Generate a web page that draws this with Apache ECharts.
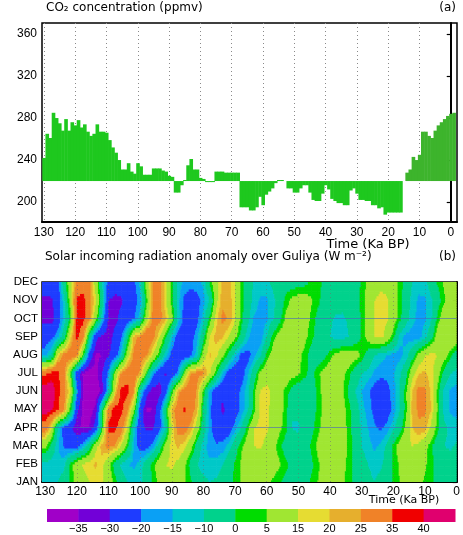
<!DOCTYPE html>
<html>
<head>
<meta charset="utf-8">
<script src="https://cdn.jsdelivr.net/npm/echarts@6.0.0/dist/echarts.min.js"></script>
<style>
html, body { margin: 0; padding: 0; background: #fff; }
#chart { width: 463px; height: 535px; }
</style>
</head>
<body>
<div id="chart"></div>
<script>
// panel (a): CO2, 1 ka steps
var co2Time = [130,129,128,127,126,125,124,123,122,121,120,119,118,117,116,115,114,113,112,111,
    110,109,108,107,106,105,104,103,102,101,100,99,98,97,96,95,94,93,92,91,
    90,89,88,87,86,85,84,83,82,81,80,79,78,77,76,75,74,73,72,71,
    70,69,68,67,66,65,64,63,62,61,60,59,58,57,56,55,54,53,52,51,
    50,49,48,47,46,45,44,43,42,41,40,39,38,37,36,35,34,33,32,31,
    30,29,28,27,26,25,24,23,22,21,20,19,18,17,16,15,14,13,12,11,
    10,9,8,7,6,5,4,3,2,1,0,-1];
var co2Ppmv = [242,265,261,285,280,275,268,279,268,276,273,278,271,274,267,263,265,274,267,267,
    266,259,252,247,240,231,231,237,229,227,237,234,226,226,226,232,232,232,230,229,
    225,224,209,209,216,221,235,241,231,231,223,222,219,219,219,229,229,229,228,228,
    228,228,228,195,195,195,192,192,195,205,197,207,210,213,218,221,221,220,213,213,
    209,209,213,216,216,209,202,201,201,208,216,212,203,201,199,199,197,197,211,213,
    208,202,202,201,201,197,197,194,195,188,190,190,190,190,190,220,228,231,243,240,
    245,267,267,263,261,268,273,276,279,282,284,285];
var co2Base = 220;
var co2Ticks = [200, 240, 280, 320, 360];
var timeTicks = [130, 120, 110, 100, 90, 80, 70, 60, 50, 40, 30, 20, 10, 0];

// panel (b): insolation anomaly (W m-2), one row per month, t = 130 ... 0 ka step 2
var months = ['JAN','FEB','MAR','APR','MAY','JUN','JUL','AUG','SEP','OCT','NOV','DEC'];
var monthIndex = [1,2,3,4,5,6,7,8,9,10,11,12];
var radTime = [130,128,126,124,122,120,118,116,114,112,110,108,106,104,102,100,98,96,94,92,
    90,88,86,84,82,80,78,76,74,72,70,68,66,64,62,60,58,56,54,52,
    50,48,46,44,42,40,38,36,34,32,30,28,26,24,22,20,18,16,14,12,10,8,6,4,2,0];
var radJan = [-11,-11,-10,-6,2,8,12,15,17,16, 11,3,-5,-10,-12,-11,-7,1,7,11,
    12,10,6,1,-5,-8,-10,-9,-7,-3, 2,6,8,9,9,7,4,1,-3,-4,
    -5,-4,1,5,7,8,8,6,2,-2, -5,-8,-10,-8,-5,1,5,8,8,7, 4,1,-2,-4,-5,-4];
var radFeb = [-12,-13,-14,-12,2,10,16,18,21,17, 8,-4,-11,-15,-16,-13,-6,3,10,15,
    16,13,7,-3,-10,-13,-14,-13,-10,-5, 1,6,9,11,11,10,8,6,2,-3,
    -6,-5,-2,4,7,9,9,7,3,-3, -7,-10,-12,-11,-7,1,6,9,10,9, 6,2,-3,-6,-7,-6];
var radMar = [8,-4,-14,-21,-25,-23,-16,-5,12,23, 27,24,15,2,-16,-23,-23,-18,-6,8,
    18,21,17,8,-4,-13,-17,-19,-18,-13, -4,4,11,15,16,13,8,2,-4,-7,
    -7,-5,1,6,9,10,10,8,4,-4, -10,-13,-16,-14,-8,2,9,13,15,13, 8,1,-6,-10,-11,-9];
var radApr = [30,16,-11,-24,-29,-34,-36,-35,-26,2, 37,38,29,15,-12,-28,-31,-31,-24,-10,
    16,28,29,23,10,-5,-18,-25,-27,-25, -17,-10,3,15,17,16,12,7,2,-10,
    -11,-6,-3,3,8,10,10,8,3,-5, -11,-15,-19,-21,-18,-12,-4,8,20,24, 23,13,2,-8,-12,-13];
var radMay = [44,41,36,26,2,-28,-37,-38,-33,-3, 30,39,38,27,8,-24,-36,-35,-25,-3,
    22,30,36,30,22,-4,-18,-27,-31,-28, -25,-18,-11,3,17,17,12,8,3,-10,
    -8,-6,-4,1,7,10,10,8,2,-6, -13,-17,-22,-27,-24,-18,-10,3,22,26, 26,20,4,-12,-16,-17];
var radJun = [44,43,38,28,16,-17,-35,-39,-39,-33, -12,17,38,38,26,-11,-27,-34,-33,-26,
    2,23,30,31,24,3,-17,-26,-29,-28, -25,-18,-12,2,16,17,13,9,3,-3,
    -6,-7,-5,1,8,10,9,6,-2,-10, -15,-19,-23,-26,-23,-17,-10,4,21,27, 26,19,3,-12,-16,-17];
var radJul = [34,38,37,28,5,-26,-36,-39,-37,-30, -18,8,26,31,31,24,3,-17,-27,-31,
    -27,-18,8,26,28,26,16,1,-14,-24, -27,-24,-16,-5,8,12,13,13,11,8,
    6,2,-3,3,8,10,10,7,2,-5, -10,-12,-16,-18,-18,-16,-11,-3,12,20, 21,17,9,-3,-10,-12];
var radAug = [-17,-10,18,28,32,27,2,-24,-36,-35, -31,-25,-13,12,27,30,26,15,1,-13,
    -23,-27,-26,-22,-12,10,21,17,8,-3, -14,-22,-23,-17,-11,2,9,11,12,10,
    7,3,-3,-5,-3,3,8,10,11,9, 4,-4,-10,-13,-15,-17,-17,-13,-4,8, 15,17,15,9,2,-5];
var radSep = [-24,-22,-16,-5,18,38,28,-5,-28,-32, -33,-28,-22,-5,22,28,35,28,17,1,
    -14,-24,-26,-23,-17,-4,16,22,21,15, 7,-3,-14,-19,-18,-10,3,9,11,11,
    10,7,2,-3,-7,-10,-12,-12,-10,-6, 1,8,15,17,12,2,-13,-17,-18,-17, -12,-3,10,15,15,11];
var radOct = [-32,-33,-25,-13,2,38,38,27,8,-14, -31,-32,-28,-25,-21,-12,12,27,28,22,
    8,-12,-23,-26,-22,-13,2,18,27,24, 16,2,-8,-16,-17,-16,-11,-3,7,10,
    11,9,4,-2,-6,-9,-11,-11,-9,-5, 1,8,15,17,16,10,2,-7,-13,-17, -16,-11,2,12,15,13];
var radNov = [-32,-31,-24,-12,10,37,38,28,16,-5, -30,-32,-31,-27,-23,-18,2,26,29,17,
    2,-13,-22,-25,-23,-17,-10,12,23,23, 16,3,-6,-12,-16,-16,-12,-6,2,7,
    9,9,6,2,-3,-6,-7,-8,-6,-3, 2,9,15,17,16,11,3,-6,-12,-16, -16,-11,-4,4,8,10];
var radDec = [-25,-25,-24,-4,13,27,31,27,10,-11, -22,-26,-27,-26,-22,-13,10,26,29,17,
    2,-12,-16,-17,-17,-14,1,12,22,22, 16,2,-6,-11,-12,-12,-8,-5,-4,-4,
    -3,-2,1,2,-1,-5,-6,-6,-6,-4, 1,7,11,13,12,8,3,-3,-10,-13, -12,-6,1,6,9,10];

// contour levels and shading colours
var levels = [-35, -30, -20, -15, -10, 0, 5, 15, 20, 25, 35, 40];
var levelColors = ['#a000c8', '#7200d8', '#1e3cff', '#0aa0f5', '#00c8c8', '#00d28c', '#00dc00',
    '#a0e632', '#e6dc32', '#e6af2d', '#f08228', '#f00000', '#e0006e'];

var radRows = [radJan, radFeb, radMar, radApr, radMay, radJun, radJul, radAug, radSep, radOct, radNov, radDec];
var heatData = [];
radRows.forEach(function(row, k) {
    row.forEach(function(v, i) {
        heatData.push([radTime[i], monthIndex[k], v, i, k]);
    });
});
var co2Data = co2Time.map(function(t, i) { return [t, co2Ppmv[i]]; });
var keyData = levelColors.map(function(c, i) { return [i, 1]; });

function levelColor(v) {
    for (var j = 0; j < levels.length; j++) {
        if (v < levels[j]) return levelColors[j];
    }
    return levelColors[levels.length];
}

function clipTo(params, r) {
    return echarts.graphic.clipRectByRect(r, {
        x: params.coordSys.x, y: params.coordSys.y,
        width: params.coordSys.width, height: params.coordSys.height
    });
}

function renderCo2(params, api) {
    var t = api.value(0);
    var a = api.coord([t + 0.5, co2Base]);
    var b = api.coord([t - 0.5, api.value(1)]);
    var shape = clipTo(params, {
        x: Math.min(a[0], b[0]), y: Math.min(a[1], b[1]),
        width: Math.abs(b[0] - a[0]) + 0.5, height: Math.abs(b[1] - a[1])
    });
    return shape && { type: 'rect', shape: shape, style: { fill: t < 14.5 ? '#3db42c' : '#1ec81e' } };
}

// filled-contour shading of one grid box (node i,k to node i+1,k+1)
var SUBX = 6, SUBY = 8;
function renderCell(params, api) {
    var i = api.value(3), k = api.value(4);
    if (i >= radTime.length - 1 || k >= radRows.length - 1) return null;
    var t0 = radTime[i], t1 = radTime[i + 1];
    var m0 = monthIndex[k], m1 = monthIndex[k + 1];
    var v00 = radRows[k][i], v10 = radRows[k][i + 1];
    var v01 = radRows[k + 1][i], v11 = radRows[k + 1][i + 1];
    var cols = [];
    if (i === 0) cols.push([t0 + 1, t0, 0]);
    for (var sx = 0; sx < SUBX; sx++) {
        cols.push([t0 + (t1 - t0) * sx / SUBX, t0 + (t1 - t0) * (sx + 1) / SUBX, (sx + 0.5) / SUBX]);
    }
    var children = [];
    for (var sy = 0; sy < SUBY; sy++) {
        var fy = (sy + 0.5) / SUBY;
        var ya = m0 + (m1 - m0) * sy / SUBY;
        var yb = m0 + (m1 - m0) * (sy + 1) / SUBY;
        var runStart = null, runColor = null;
        for (var c = 0; c <= cols.length; c++) {
            var col = null;
            if (c < cols.length) {
                var fx = cols[c][2];
                var v = v00 * (1 - fx) * (1 - fy) + v10 * fx * (1 - fy) + v01 * (1 - fx) * fy + v11 * fx * fy;
                col = levelColor(v);
            }
            if (col !== runColor) {
                if (runColor !== null) {
                    var pa = api.coord([cols[runStart][0], yb]);
                    var pb = api.coord([cols[c - 1][1], ya]);
                    var shape = clipTo(params, {
                        x: Math.min(pa[0], pb[0]), y: Math.min(pa[1], pb[1]),
                        width: Math.abs(pb[0] - pa[0]) + 0.6, height: Math.abs(pb[1] - pa[1]) + 0.6
                    });
                    if (shape) children.push({ type: 'rect', shape: shape, style: { fill: runColor } });
                }
                runStart = c;
                runColor = col;
            }
        }
    }
    return { type: 'group', children: children };
}

function renderKey(params, api) {
    var i = api.value(0);
    var a = api.coord([i, 0]);
    var b = api.coord([i + 1, 1]);
    return { type: 'rect', shape: { x: a[0], y: b[1], width: b[0] - a[0] + 0.5, height: a[1] - b[1] },
        style: { fill: levelColors[i] } };
}

var chart = echarts.init(document.getElementById('chart'));
var labelFont = 'Liberation Sans';
var narrowFont = '"Liberation Sans Narrow", "Liberation Sans"';
var titleFont = 'DejaVu Sans';
var dotted = { type: [1, 3], color: '#8a8a8a', width: 1 };

chart.setOption({
    animation: false,
    backgroundColor: '#fff',
    textStyle: { fontFamily: labelFont },
    grid: [
        { left: 42, top: 23, width: 415, height: 199, show: true, borderColor: '#000', borderWidth: 1.5 },
        { left: 42, top: 282, width: 415, height: 200, show: true, borderColor: '#000', borderWidth: 1.5 },
        { left: 47, top: 509, width: 408, height: 13 }
    ],
    xAxis: [
        { gridIndex: 0, type: 'value', min: -2, max: 130.6, inverse: true,
          axisLine: { lineStyle: { color: '#000', width: 2 } },
          axisTick: { show: false, customValues: timeTicks },
          splitLine: { show: true, lineStyle: dotted },
          axisLabel: { customValues: timeTicks, color: '#000', fontSize: 12, margin: 5 } },
        { gridIndex: 1, type: 'value', min: 0, max: 131, inverse: true,
          axisLine: { lineStyle: { color: '#000', width: 2 } },
          axisTick: { show: false, customValues: timeTicks },
          splitLine: { show: false },
          axisLabel: { customValues: timeTicks, color: '#000', fontSize: 12, margin: 4 } },
        { gridIndex: 2, type: 'value', min: 0, max: 13,
          axisLine: { show: false }, axisTick: { show: false }, splitLine: { show: false },
          axisLabel: { customValues: [1,2,3,4,5,6,7,8,9,10,11,12], color: '#000', fontSize: 11, margin: 1,
              formatter: function(v) { var l = levels[v - 1]; return l < 0 ? '\u2212' + (-l) : String(l); } } }
    ],
    yAxis: [
        { gridIndex: 0, type: 'value', min: 181, max: 370.5,
          axisLine: { show: true, lineStyle: { color: '#000', width: 2 } },
          axisTick: { show: true, customValues: co2Ticks, length: 4, lineStyle: { color: '#000', width: 1.2 } },
          splitLine: { show: false },
          axisLabel: { customValues: co2Ticks, color: '#000', fontSize: 12, margin: 5 } },
        { gridIndex: 1, type: 'value', min: 1, max: 12,
          axisLine: { show: true, lineStyle: { color: '#000', width: 2 } },
          axisTick: { show: true, customValues: monthIndex, length: 4, lineStyle: { color: '#000', width: 1.2 } },
          splitLine: { show: false },
          axisLabel: { customValues: monthIndex, color: '#000', fontSize: 11.5, margin: 4, fontFamily: narrowFont,
              formatter: function(v) { return months[v - 1]; } } },
        { gridIndex: 2, type: 'value', min: 0, max: 1, show: false }
    ],
    series: [
        { type: 'custom', name: 'CO2', xAxisIndex: 0, yAxisIndex: 0, data: co2Data,
          encode: { x: 0, y: 1 }, renderItem: renderCo2, z: 2 },
        { type: 'custom', name: 'radiation', xAxisIndex: 1, yAxisIndex: 1, data: heatData,
          encode: { x: 0, y: 1 }, renderItem: renderCell, z: 2, silent: true,
          markLine: {
              silent: true, symbol: 'none', label: { show: false },
              lineStyle: { type: [1, 3], color: 'rgba(110,110,110,0.55)', width: 1 },
              data: timeTicks.slice(1, 13).map(function(t) { return { xAxis: t }; }).concat([
                  { yAxis: 4, lineStyle: { type: 'solid', color: 'rgba(70,100,190,0.6)', width: 1 } },
                  { yAxis: 10, lineStyle: { type: 'solid', color: 'rgba(70,100,190,0.6)', width: 1 } }
              ])
          } },
        { type: 'custom', name: 'key', xAxisIndex: 2, yAxisIndex: 2, data: keyData,
          encode: { x: 0, y: 1 }, renderItem: renderKey, silent: true }
    ],
    graphic: [
        { type: 'text', x: 46, y: 8, style: { text: 'CO\u2082 concentration (ppmv)', font: '12px "' + titleFont + '"', fill: '#000', textVerticalAlign: 'middle' } },
        { type: 'text', x: 456, y: 8, style: { text: '(a)', font: '12px "' + titleFont + '"', fill: '#000', textAlign: 'right', textVerticalAlign: 'middle' } },
        { type: 'text', x: 368, y: 245, style: { text: 'Time (Ka BP)', font: '13px "' + titleFont + '"', fill: '#000', textAlign: 'center', textVerticalAlign: 'middle' } },
        { type: 'text', x: 45, y: 257, style: { text: 'Solar incoming radiation anomaly over Guliya (W m\u207b\u00b2)', font: '12px "' + titleFont + '"', fill: '#000', textVerticalAlign: 'middle' } },
        { type: 'text', x: 456, y: 257, style: { text: '(b)', font: '12px "' + titleFont + '"', fill: '#000', textAlign: 'right', textVerticalAlign: 'middle' } },
        { type: 'text', x: 404, y: 500, style: { text: 'Time (Ka BP)', font: '11px "' + titleFont + '"', fill: '#000', textAlign: 'center', textVerticalAlign: 'middle' } },
        { type: 'text', x: -3, y: 381, rotation: Math.PI / 2, style: { text: 'MONTH', font: '11px "' + labelFont + '"', fill: '#000', textAlign: 'center', textVerticalAlign: 'middle' } }
    ]
});
</script>
</body>
</html>
